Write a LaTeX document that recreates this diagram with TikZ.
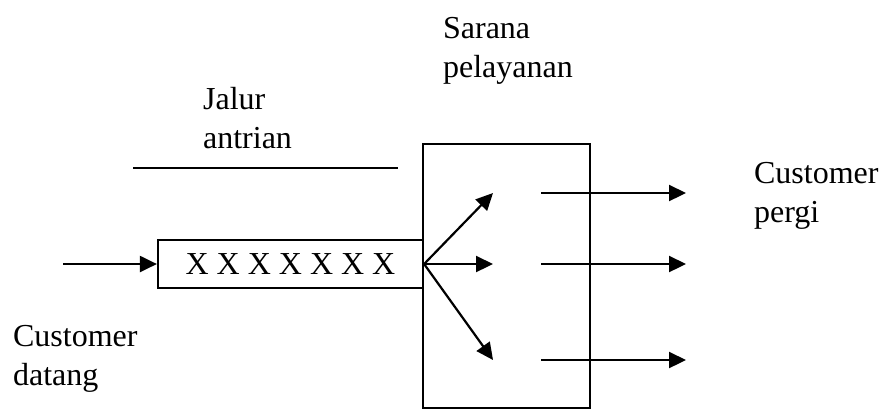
\documentclass[tikz,border=0pt]{standalone}
\usepackage{fontspec}
\setmainfont{Liberation Serif}
\usetikzlibrary{arrows.meta}
\begin{document}
\begin{tikzpicture}[x=0.5pt,y=-0.5pt,>={Triangle[length=8.5pt,width=8pt]},line width=1.1pt,
	txt/.style={font=\fontsize{16}{19.5}\selectfont},
	lbl/.style={txt,anchor=base west,align=left,inner sep=0pt}]
\useasboundingbox (0,0) rectangle (881,409);
\node[draw,txt,minimum width=132.5pt,minimum height=24pt,inner sep=0pt] (antrian) at (290.5,264) {X X X X X X X};
\node[draw,minimum width=83.5pt,minimum height=132pt,inner sep=0pt] (sarana) at (506.5,276) {};
\coordinate (masuk) at (63,264);
\coordinate (a1) at (493,193);
\coordinate (a2) at (493,264);
\coordinate (a3) at (493,360);
\coordinate (b1) at (541,193);
\coordinate (b2) at (541,264);
\coordinate (b3) at (541,360);
\coordinate (c1) at (686,193);
\coordinate (c2) at (686,264);
\coordinate (c3) at (686,360);
\coordinate (g1) at (133,168);
\coordinate (g2) at (398,168);
\draw[->](masuk)--(antrian.west);
\draw[->](antrian.east)--(a1);
\draw[->](antrian.east)--(a2);
\draw[->](antrian.east)--(a3);
\draw[->](b1)--(c1);
\draw[->](b2)--(c2);
\draw[->](b3)--(c3);
\draw(g1)--(g2);
\node[lbl] (lsarana) at (442,77) {Sarana\\pelayanan};
\node[lbl] (ljalur) at (202,148) {Jalur\\antrian};
\node[lbl] (lpergi) at (753,222) {Customer\\pergi};
\node[lbl] (ldatang) at (12,385) {Customer\\datang};
\end{tikzpicture}
\end{document}
